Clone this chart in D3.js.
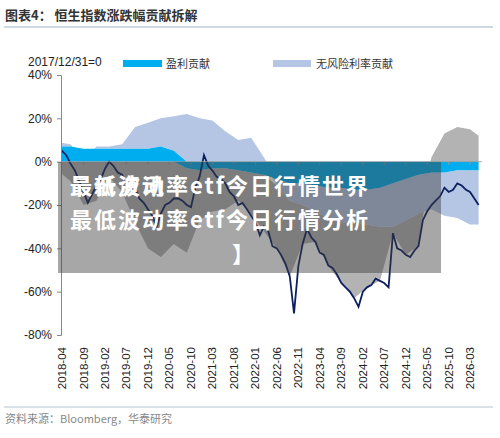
<!DOCTYPE html>
<html><head><meta charset="utf-8">
<script src="https://cdn.jsdelivr.net/npm/d3@7"></script>
<style>body{margin:0;background:#fff}</style>
</head><body>
<svg id="c" width="500" height="438"></svg>
<script>
// monthly index change (%), from 2018-03 to 2026-05
const indexValues=[5,5,3,-1,-4,-9,-14,-19,-15,-11,-8,-3,0,-2,-5,-6,-10,-13,-12,-17,-19,-22,-25,-30,-24,-20,-19,-17,-17,-18,-20,-21,-12,-7,3,-2,-4,-7,-8,-10,-14,-16,-20,-19,-22,-25,-28,-34,-30,-32,-39,-40,-43,-47,-53,-70,-48,-38,-31,-35,-37,-42,-43,-48,-49,-52,-56,-58,-60,-63,-67,-60,-58,-57,-54,-55,-56,-58,-33,-40,-41,-43,-44,-41,-39,-27,-23,-20,-18,-16,-12,-14,-13,-10,-11,-13,-14,-17,-20];
// quarterly contributions (%), 2018-03 ... 2026-03, plus 2026-05
const quarterDates=["2018-03","2018-06","2018-09","2018-12","2019-03","2019-06","2019-09","2019-12","2020-03","2020-06","2020-09","2020-12","2021-03","2021-06","2021-09","2021-12","2022-03","2022-06","2022-09","2022-12","2023-03","2023-06","2023-09","2023-12","2024-03","2024-06","2024-09","2024-12","2025-03","2025-06","2025-09","2025-12","2026-03","2026-05"];
const earnings=[7,7,6,6,6,6,6,6,7,5,-3,-4,-3,-3,-4,-5,-6,-8,-10,-10,-11,-12,-12,-13,-13,-12,-10,-8,-6,-5,-5,-4,-4,-4];
const rateContrib=[2,1,0,1,1,2,10,12,13,16,22,20,19,14,10,11,2,-3,-8,-10,-12,-14,-16,-15,-16,-18,-20,-19,-18,-17,-20,-22,-25,-25];
const premium=[-4,-9,-20,-18,-7,-14,-28,-40,-44,-38,-39,-23,-20,-19,-14,-19,-26,-29,-35,-18,-14,-22,-28,-35,-29,-25,-3,-16,-15,2,13,16,15,12];
const yTicks=[40,20,0,-20,-40,-60,-80];
const xTickLabels=["2018-04","2018-09","2019-02","2019-07","2019-12","2020-05","2020-10","2021-03","2021-08","2022-01","2022-06","2022-11","2023-04","2023-09","2024-02","2024-07","2024-12","2025-05","2025-10","2026-03"];

const svg=d3.select("#c");
const font="'Liberation Sans',Arial,sans-serif";
const cn="'Noto Sans CJK SC',sans-serif";
const pm=d3.timeParse("%Y-%m");
const x=d3.scaleTime().domain([pm("2018-04"),pm("2026-03")]).range([62,470]);
const y=d3.scaleLinear().domain([-80,40]).range([335,75]);

svg.append("text").attr("x",5).attr("y",20).attr("font-family",cn).attr("font-weight","bold").attr("font-size",13).attr("fill","#333").text("图表4：  恒生指数涨跌幅贡献拆解");
svg.append("line").attr("x1",4).attr("x2",493).attr("y1",27).attr("y2",27).attr("stroke","#9fb3c8");

const qd=quarterDates.map((d,i)=>({date:pm(d),E:earnings[i],R:rateContrib[i],P:premium[i]}));
const stack=d3.stack().keys(["E","R","P"]).offset(d3.stackOffsetDiverging)(qd);
const colors={E:"#00aeef",R:"#b4c6e3",P:"#b3b3b3"};
const area=d3.area().x(d=>x(d.data.date)).y0(d=>y(d[0])).y1(d=>y(d[1]));
svg.append("clipPath").attr("id","cp").append("rect").attr("x",61).attr("y",60).attr("width",421).attr("height",280);
const g=svg.append("g").attr("clip-path","url(#cp)");
[2,1,0].forEach(i=>g.append("path").datum(stack[i]).attr("fill",colors[stack[i].key]).attr("d",area));

const lineData=indexValues.map((v,i)=>({date:d3.timeMonth.offset(pm("2018-03"),i),v}));
g.append("path").datum(lineData).attr("fill","none").attr("stroke","#0c1f5e").attr("stroke-width",1.8)
 .attr("d",d3.line().x(d=>x(d.date)).y(d=>y(d.v)));

const xt=xTickLabels.map(pm);
svg.append("line").attr("x1",61).attr("x2",482).attr("y1",y(0)).attr("y2",y(0)).attr("stroke","#999").attr("stroke-width",0.8);
xt.forEach(d=>svg.append("line").attr("x1",x(d)).attr("x2",x(d)).attr("y1",y(0)).attr("y2",y(0)+3).attr("stroke","#999"));

const ya=svg.append("g").attr("transform","translate(61,0)").call(d3.axisLeft(y).tickValues(yTicks).tickSize(4).tickFormat(d=>d+"%"));
ya.select(".domain").attr("stroke","#888");
ya.selectAll("line").attr("stroke","#888");
ya.selectAll("text").attr("font-family",font).attr("font-size",12).attr("fill","#222").attr("dx",-2);

xt.forEach((d,i)=>svg.append("text").attr("transform",`translate(${x(d)+4},347) rotate(-90)`).attr("text-anchor","end").attr("font-family",font).attr("font-size",11.5).attr("fill","#222").text(xTickLabels[i]));

svg.append("text").attr("x",28).attr("y",66).attr("font-family",font).attr("font-size",12).attr("fill","#222").text("2017/12/31=0");
svg.append("rect").attr("x",123).attr("y",60).attr("width",39).attr("height",7).attr("fill",colors.E);
svg.append("text").attr("x",166).attr("y",68).attr("font-family",cn).attr("font-size",11).attr("fill","#333").text("盈利贡献");
svg.append("rect").attr("x",273).attr("y",60).attr("width",38).attr("height",7).attr("fill",colors.R);
svg.append("text").attr("x",316).attr("y",68).attr("font-family",cn).attr("font-size",11).attr("fill","#333").text("无风险利率贡献");

svg.append("line").attr("x1",4).attr("x2",493).attr("y1",407).attr("y2",407).attr("stroke","#b4c4d4");
svg.append("text").attr("x",5).attr("y",423).attr("font-family",cn).attr("font-size",11).attr("fill","#888").text("资料来源：Bloomberg，华泰研究");

svg.append("rect").attr("x",58).attr("y",162).attr("width",383).attr("height",111).attr("fill","rgba(60,60,60,0.45)");
const bt=(t,xx,yy)=>svg.append("text").attr("x",xx).attr("y",yy).attr("font-family",cn).attr("font-weight","bold").attr("font-size",22).attr("letter-spacing",2).attr("fill","#fff").text(t);
bt("最新资讯",70,194);
bt("最低波动率etf今日行情世界",70,194);
bt("最低波动率etf今日行情分析",70,228);
bt("】",232,262);
</script>
</body></html>
